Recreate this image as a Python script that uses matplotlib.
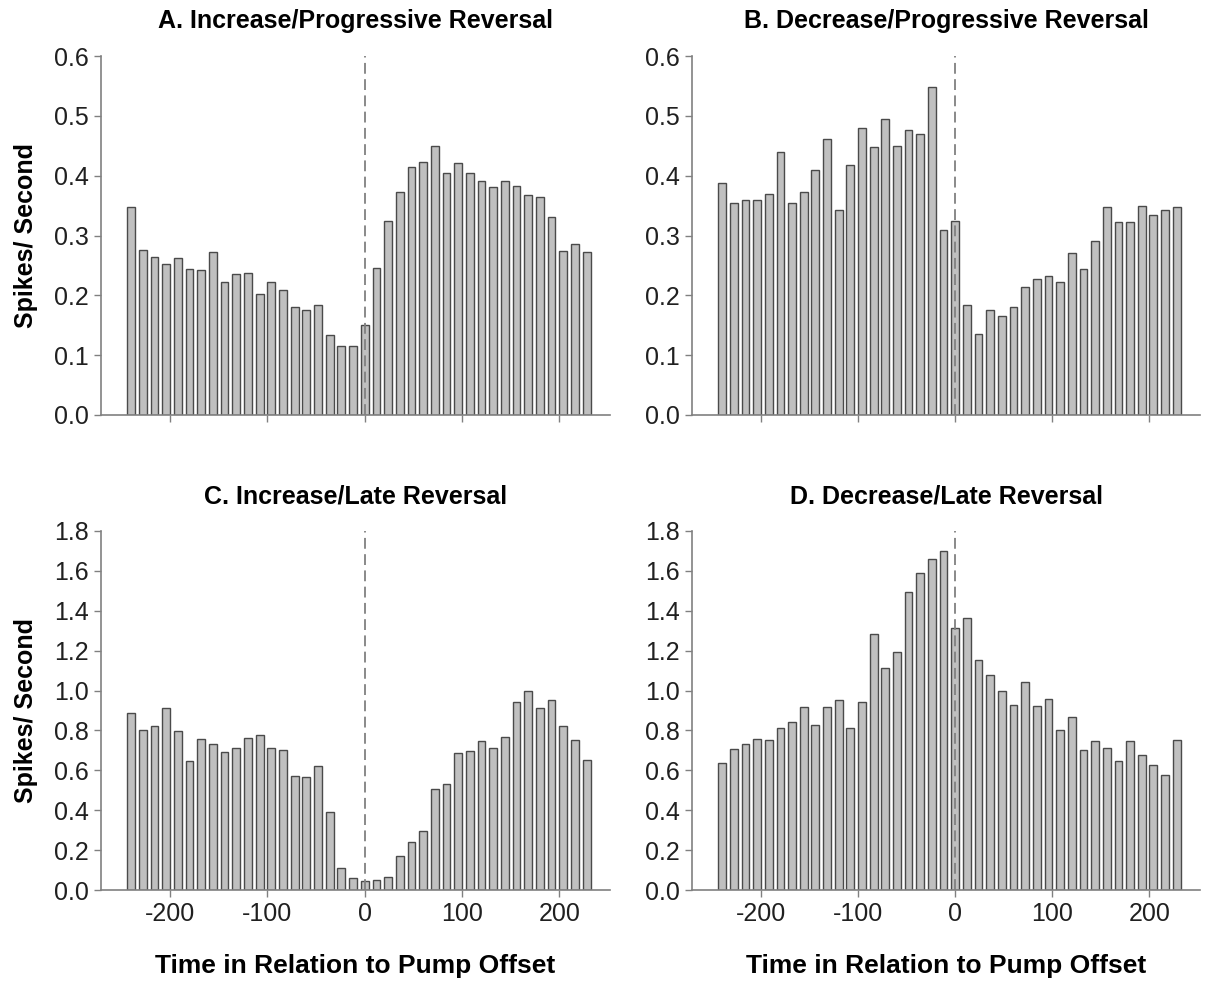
import numpy as np
import matplotlib
matplotlib.use("Agg")
import matplotlib.pyplot as plt
from matplotlib.ticker import FormatStrFormatter

plt.rcParams['font.family'] = ['Liberation Sans', 'DejaVu Sans']
plt.rcParams['axes.unicode_minus'] = False

# bin centres (12 s bins, -240 .. 228)
time_bins = np.arange(-240, 229, 12)

# A. Increase/Progressive Reversal
rate_a = [0.347, 0.276, 0.264, 0.252, 0.262, 0.244, 0.242, 0.272, 0.222, 0.236,
          0.237, 0.203, 0.222, 0.209, 0.180, 0.176, 0.184, 0.134, 0.116, 0.116,
          0.150, 0.246, 0.325, 0.372, 0.415, 0.423, 0.449, 0.404, 0.421, 0.404,
          0.391, 0.381, 0.391, 0.382, 0.368, 0.364, 0.331, 0.274, 0.286, 0.272]

# B. Decrease/Progressive Reversal
rate_b = [0.387, 0.354, 0.360, 0.360, 0.369, 0.440, 0.355, 0.373, 0.409, 0.462,
          0.343, 0.418, 0.479, 0.448, 0.494, 0.450, 0.477, 0.470, 0.549, 0.310,
          0.325, 0.184, 0.135, 0.176, 0.165, 0.180, 0.214, 0.227, 0.233, 0.222,
          0.271, 0.244, 0.291, 0.347, 0.323, 0.323, 0.349, 0.334, 0.343, 0.347]

# C. Increase/Late Reversal
rate_c = [0.888, 0.803, 0.820, 0.915, 0.797, 0.645, 0.757, 0.730, 0.692, 0.710,
          0.763, 0.777, 0.710, 0.703, 0.570, 0.567, 0.622, 0.392, 0.112, 0.062,
          0.047, 0.050, 0.067, 0.172, 0.242, 0.295, 0.507, 0.530, 0.685, 0.695,
          0.747, 0.710, 0.765, 0.942, 0.998, 0.913, 0.955, 0.823, 0.752, 0.650]

# D. Decrease/Late Reversal
rate_d = [0.638, 0.706, 0.731, 0.755, 0.750, 0.811, 0.841, 0.917, 0.825, 0.917,
          0.953, 0.813, 0.942, 1.286, 1.114, 1.192, 1.496, 1.589, 1.660, 1.698,
          1.312, 1.364, 1.154, 1.080, 0.998, 0.930, 1.042, 0.925, 0.960, 0.800,
          0.868, 0.700, 0.745, 0.710, 0.649, 0.745, 0.678, 0.626, 0.576, 0.751]

titles = ['A. Increase/Progressive Reversal', 'B. Decrease/Progressive Reversal',
          'C. Increase/Late Reversal', 'D. Decrease/Late Reversal']
y_limits = [0.6, 0.6, 1.8, 1.8]
y_steps = [0.1, 0.1, 0.2, 0.2]

W, H = 1214, 989
fig = plt.figure(figsize=(W / 100, H / 100), dpi=100)

# axes boxes in pixels: left, right, top, bottom
boxes = [(101, 610, 56, 415), (692, 1200, 56, 415),
         (101, 610, 531, 890), (692, 1200, 531, 890)]

tick_font = ['Liberation Sans Narrow', 'Liberation Sans', 'DejaVu Sans']

panels = [rate_a, rate_b, rate_c, rate_d]
for i, (rates, box) in enumerate(zip(panels, boxes)):
    l, r, t, b = box
    ax = fig.add_axes([l / W, (H - b) / H, (r - l) / W, (b - t) / H])
    ax.bar(time_bins, rates, width=8, color='#c0c0c0', edgecolor='#4a4a4a',
           linewidth=1.0, zorder=2)
    ax.axvline(0, color='#808080', linestyle=(0, (6, 3)), linewidth=1.3, zorder=3)
    ax.set_xlim(-271, 252)
    ax.set_ylim(0, y_limits[i])
    ax.set_yticks(np.arange(0, y_limits[i] + 1e-6, y_steps[i]))
    ax.yaxis.set_major_formatter(FormatStrFormatter('%.1f'))
    ax.set_xticks([-200, -100, 0, 100, 200])
    for side in ['top', 'right']:
        ax.spines[side].set_visible(False)
    for side in ['left', 'bottom']:
        ax.spines[side].set_color('#808080')
        ax.spines[side].set_linewidth(1.2)
    ax.tick_params(axis='both', colors='#808080', length=5, width=1.0,
                   labelcolor='#202020', labelsize=18)
    for lab in ax.get_xticklabels() + ax.get_yticklabels():
        lab.set_family(tick_font)
    if i < 2:
        ax.tick_params(axis='x', labelbottom=False)
    else:
        ax.set_xlabel('Time in Relation to Pump Offset', fontsize=19,
                      fontweight='bold', labelpad=20)
    if i % 2 == 0:
        ax.set_ylabel('Spikes/ Second', fontsize=18, fontweight='bold', labelpad=12)
    ax.set_title(titles[i], fontsize=18, fontweight='bold', pad=20)

fig.savefig('out.png', dpi=100)
